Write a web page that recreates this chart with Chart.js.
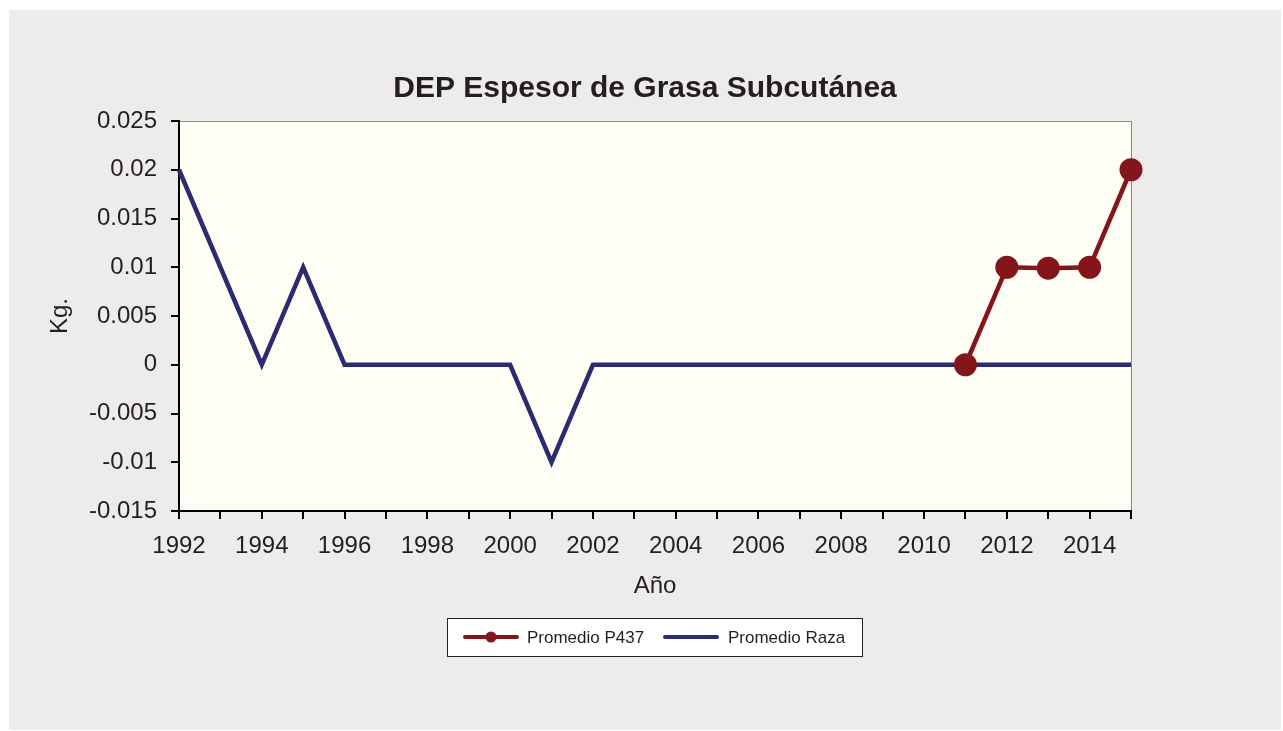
<!DOCTYPE html>
<html>
<head>
<meta charset="utf-8">
<script src="https://cdn.jsdelivr.net/npm/chart.js@4.4.1/dist/chart.umd.min.js"></script>
<style>
html,body{margin:0;padding:0;background:#fff;}
#wrap{position:relative;width:1283px;height:731px;}
canvas{display:block;}
</style>
</head>
<body>
<div id="wrap"><canvas id="c" width="1283" height="731"></canvas></div>
<script>
// ---- data ----
const years = ['1992','1993','1994','1995','1996','1997','1998','1999','2000','2001','2002','2003',
               '2004','2005','2006','2007','2008','2009','2010','2011','2012','2013','2014','2015'];
const promedioP437 = [null,null,null,null,null,null,null,null,null,null,null,null,
                      null,null,null,null,null,null,null,0,0.01,0.0099,0.01,0.02];
const promedioRaza = [0.02,0.01,0,0.01,0,0,0,0,0,-0.01,0,0,
                      0,0,0,0,0,0,0,0,0,0,0,0];
const seriesNames = ['Promedio P437','Promedio Raza'];
const chartTitle = 'DEP Espesor de Grasa Subcutánea';
const yTitle = 'Kg.';
const xTitle = 'Año';

const RED = '#84151a';
const NAVY = '#2a2b70';
const FONT = "'Liberation Sans', Arial, sans-serif";
const TXT = '#231f20';

const PANEL = {x: 9, y: 10, w: 1272, h: 720};

const bgPlugin = {
  id: 'bg',
  beforeDraw(chart) {
    const ctx = chart.ctx, a = chart.chartArea;
    ctx.save();
    ctx.fillStyle = '#ffffff';
    ctx.fillRect(0, 0, chart.width, chart.height);
    ctx.fillStyle = '#edeceb';
    ctx.fillRect(PANEL.x, PANEL.y, PANEL.w, PANEL.h);
    ctx.fillStyle = '#fefef4';
    ctx.fillRect(a.left, a.top, a.right - a.left, a.bottom - a.top);
    ctx.strokeStyle = '#8a8a8a';
    ctx.lineWidth = 1;
    ctx.beginPath();
    ctx.moveTo(a.left, a.top + 0.5);
    ctx.lineTo(a.right + 0.5, a.top + 0.5);
    ctx.lineTo(a.right + 0.5, a.bottom);
    ctx.stroke();
    // chart title, centred over the panel
    ctx.fillStyle = TXT;
    ctx.font = 'bold 30px ' + FONT;
    ctx.textAlign = 'center';
    ctx.textBaseline = 'middle';
    ctx.fillText(chartTitle, PANEL.x + PANEL.w / 2, 89);
    ctx.restore();
  },
  afterDraw(chart) {
    const ctx = chart.ctx;
    ctx.save();
    const bx = 447, by = 618, bw = 415, bh = 38;
    ctx.fillStyle = '#ffffff';
    ctx.fillRect(bx, by, bw, bh);
    ctx.strokeStyle = '#222';
    ctx.lineWidth = 1;
    ctx.strokeRect(bx + 0.5, by + 0.5, bw, bh);
    const cy = by + bh / 2;
    const items = [
      {x0: 465, x1: 517, tx: 527, color: chart.data.datasets[0].borderColor, dot: true, label: chart.data.datasets[0].label},
      {x0: 665, x1: 717, tx: 728, color: chart.data.datasets[1].borderColor, dot: false, label: chart.data.datasets[1].label}
    ];
    items.forEach(it => {
      ctx.strokeStyle = it.color;
      ctx.lineWidth = 4;
      ctx.lineCap = 'round';
      ctx.beginPath();
      ctx.moveTo(it.x0, cy);
      ctx.lineTo(it.x1, cy);
      ctx.stroke();
      if (it.dot) {
        ctx.fillStyle = it.color;
        ctx.beginPath();
        ctx.arc((it.x0 + it.x1) / 2, cy, 5.5, 0, Math.PI * 2);
        ctx.fill();
      }
      ctx.fillStyle = TXT;
      ctx.font = '17px ' + FONT;
      ctx.textBaseline = 'middle';
      ctx.textAlign = 'left';
      ctx.fillText(it.label, it.tx, cy + 1);
    });
    ctx.restore();
  }
};

new Chart(document.getElementById('c'), {
  type: 'line',
  data: {
    labels: years,
    datasets: [
      {
        label: seriesNames[0],
        data: promedioP437,
        borderColor: RED,
        backgroundColor: RED,
        borderWidth: 4.5,
        pointRadius: 11.5,
        pointHoverRadius: 11.5,
        pointBackgroundColor: RED,
        pointBorderWidth: 0,
        tension: 0,
        clip: false,
        spanGaps: false
      },
      {
        label: seriesNames[1],
        data: promedioRaza,
        borderColor: NAVY,
        backgroundColor: NAVY,
        borderWidth: 4.5,
        pointRadius: 0,
        pointHoverRadius: 0,
        tension: 0,
        borderJoinStyle: 'miter',
        clip: false
      }
    ]
  },
  options: {
    responsive: false,
    animation: false,
    devicePixelRatio: 1,
    layout: { padding: { left: 0, right: 152, top: 121, bottom: 120 } },
    plugins: {
      legend: { display: false },
      tooltip: { enabled: false },
      title: { display: false }
    },
    scales: {
      x: {
        type: 'category',
        offset: false,
        afterFit(scale) { scale.height = 100; },
        grid: {
          display: true,
          drawOnChartArea: false,
          drawTicks: true,
          tickLength: 8,
          color: '#000',
          lineWidth: 2,
          offset: false
        },
        border: { display: true, color: '#000', width: 2 },
        ticks: {
          autoSkip: false,
          maxRotation: 0,
          minRotation: 0,
          padding: 13,
          color: TXT,
          font: { family: FONT, size: 24 },
          callback: function(v, i) { return i % 2 === 0 ? this.getLabelForValue(v) : ''; }
        },
        title: {
          display: true,
          text: xTitle,
          color: TXT,
          font: { family: FONT, size: 24, lineHeight: 1.2 },
          padding: { top: 0, bottom: 10 }
        }
      },
      y: {
        min: -0.015,
        max: 0.025,
        afterFit(scale) { scale.width = 179; },
        grid: {
          display: true,
          drawOnChartArea: false,
          drawTicks: true,
          tickLength: 8,
          color: '#000',
          lineWidth: 2
        },
        border: { display: true, color: '#000', width: 2 },
        ticks: {
          stepSize: 0.005,
          padding: 14,
          color: TXT,
          font: { family: FONT, size: 24 },
          callback: v => String(parseFloat(Number(v).toFixed(3)))
        },
        title: {
          display: true,
          text: yTitle,
          color: TXT,
          font: { family: FONT, size: 24, lineHeight: 1.2 },
          padding: { top: 45.6, bottom: 0 }
        }
      }
    }
  },
  plugins: [bgPlugin]
});
</script>
</body>
</html>
